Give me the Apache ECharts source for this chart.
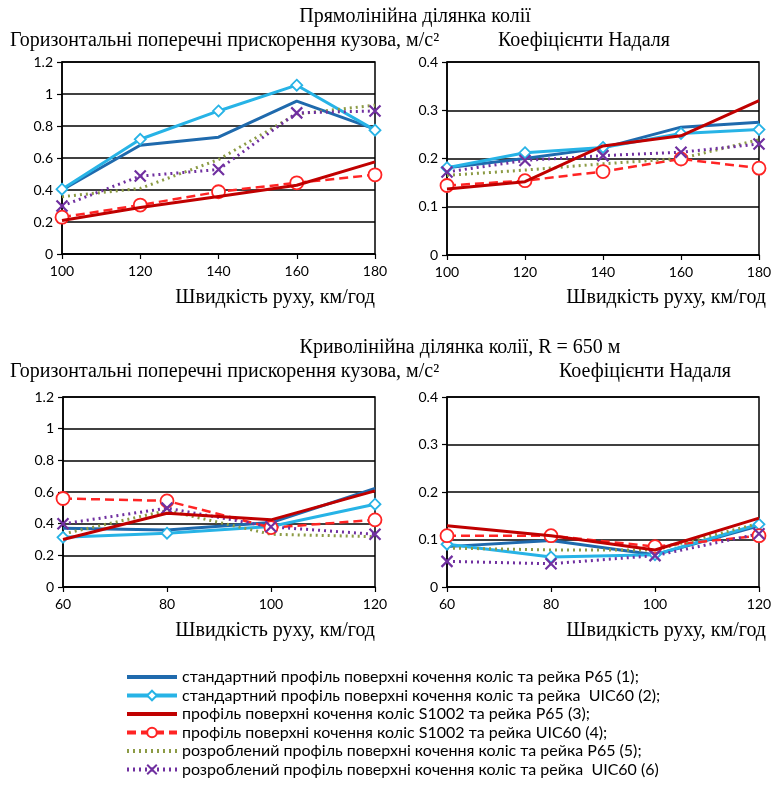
<!DOCTYPE html>
<html>
<head>
<meta charset="utf-8">
<script src="https://cdn.jsdelivr.net/npm/echarts@6/dist/echarts.min.js"></script>
<style>
  html, body { margin: 0; padding: 0; background: #fff; }
  #chart { width: 777px; height: 785px; }
</style>
</head>
<body>
<div id="chart"></div>
<script>
// Speeds, km/h
const speedStraight = [100, 120, 140, 160, 180];
const speedCurve = [60, 80, 100, 120];

// Series names (wheel profile / rail combinations)
const seriesNames = [
  'стандартний профіль поверхні кочення коліс та рейка Р65 (1);',
  'стандартний профіль поверхні кочення коліс та рейка  UIC60 (2);',
  'профіль поверхні кочення коліс S1002 та рейка Р65 (3);',
  'профіль поверхні кочення коліс S1002 та рейка UIC60 (4);',
  'розроблений профіль поверхні кочення коліс та рейка Р65 (5);',
  'розроблений профіль поверхні кочення коліс та рейка  UIC60 (6)'
];

// Straight track: horizontal lateral body accelerations, m/s^2
const accStraight = [
  [0.40, 0.68, 0.73, 0.955, 0.78],
  [0.405, 0.717, 0.894, 1.055, 0.774],
  [0.21, 0.29, 0.36, 0.43, 0.576],
  [0.23, 0.306, 0.389, 0.445, 0.495],
  [0.358, 0.41, 0.59, 0.875, 0.93],
  [0.30, 0.487, 0.528, 0.882, 0.894]
];

// Straight track: Nadal coefficients
const nadalStraight = [
  [0.181, 0.20, 0.222, 0.265, 0.275],
  [0.181, 0.212, 0.223, 0.252, 0.26],
  [0.137, 0.152, 0.226, 0.247, 0.32],
  [0.144, 0.154, 0.173, 0.199, 0.18],
  [0.165, 0.176, 0.189, 0.20, 0.239],
  [0.172, 0.196, 0.206, 0.213, 0.23]
];

// Curve R = 650 m: horizontal lateral body accelerations, m/s^2
const accCurve = [
  [0.371, 0.36, 0.407, 0.622],
  [0.314, 0.34, 0.382, 0.523],
  [0.30, 0.466, 0.424, 0.607],
  [0.559, 0.544, 0.375, 0.424],
  [0.335, 0.483, 0.333, 0.318],
  [0.399, 0.498, 0.38, 0.333]
];

// Curve R = 650 m: Nadal coefficients
const nadalCurve = [
  [0.085, 0.098, 0.068, 0.129],
  [0.09, 0.063, 0.068, 0.132],
  [0.129, 0.108, 0.078, 0.145],
  [0.108, 0.108, 0.085, 0.108],
  [0.082, 0.078, 0.078, 0.134],
  [0.054, 0.049, 0.066, 0.112]
];

const serifFont = '"Liberation Serif", "DejaVu Serif", serif';
const sansFont = 'Lato, "Open Sans", sans-serif';

const crossPath = 'path://M0,0L10,10M10,0L0,10';

// Visual style for each of the six series
const styles = [
  { color: '#1f6aad', type: 'solid', width: 3, symbol: 'none' },
  { color: '#27b3e6', type: 'solid', width: 3, symbol: 'diamond', size: 11 },
  { color: '#c00000', type: 'solid', width: 3, symbol: 'none' },
  { color: '#ff2424', type: [9, 5], width: 2.5, symbol: 'circle', size: 13 },
  { color: '#8c9b45', type: [2, 4], width: 3, symbol: 'none' },
  { color: '#7030a0', type: [2, 4], width: 3, symbol: crossPath, size: 11 }
];

const grids = [
  { left: 62, top: 62, width: 313, height: 192 },
  { left: 447, top: 62, width: 312, height: 193 },
  { left: 63, top: 397, width: 312, height: 190 },
  { left: 447, top: 397, width: 312, height: 190 }
];
grids.forEach(g => { g.show = true; g.borderColor = '#000'; g.borderWidth = 1.5; g.containLabel = false; });

function xAxisFor(idx, speeds) {
  return {
    type: 'value', gridIndex: idx,
    min: speeds[0], max: speeds[speeds.length - 1], interval: speeds[1] - speeds[0],
    axisLine: { show: true, lineStyle: { color: '#000', width: 1.5 } },
    axisTick: { show: true, length: 5, inside: false, lineStyle: { color: '#000', width: 1.2 } },
    axisLabel: { color: '#000', fontFamily: sansFont, fontSize: 14, margin: 10 },
    splitLine: { show: false }
  };
}

function yAxisFor(idx, max, interval) {
  return {
    type: 'value', gridIndex: idx, min: 0, max: max, interval: interval,
    axisLine: { show: true, lineStyle: { color: '#000', width: 1.5 } },
    axisTick: { show: true, length: 5, lineStyle: { color: '#000', width: 1.2 } },
    axisLabel: { color: '#000', fontFamily: sansFont, fontSize: 14, margin: 9 },
    splitLine: { show: true, lineStyle: { color: '#000', width: 1.5 } }
  };
}

const panels = [
  { speeds: speedStraight, data: accStraight },
  { speeds: speedStraight, data: nadalStraight },
  { speeds: speedCurve, data: accCurve },
  { speeds: speedCurve, data: nadalCurve }
];

const series = [];
panels.forEach((p, gi) => {
  p.data.forEach((vals, si) => {
    const st = styles[si];
    const noMarker = st.symbol === 'none';
    series.push({
      name: seriesNames[si],
      type: 'line',
      xAxisIndex: gi, yAxisIndex: gi,
      data: vals.map((v, i) => [p.speeds[i], v]),
      showSymbol: !noMarker,
      symbol: st.symbol,
      symbolSize: st.size || 0,
      lineStyle: { color: st.color, width: st.width, type: st.type },
      itemStyle: noMarker
        ? { color: 'rgba(0,0,0,0)', borderColor: 'rgba(0,0,0,0)', borderWidth: 0 }
        : {
            color: st.symbol === crossPath ? st.color : '#fff',
            borderColor: st.color,
            borderWidth: st.symbol === crossPath ? 2.2 : 1.8
          },
      z: si === 2 ? 3 : 2,
      animation: false
    });
  });
});

function text(x, y, str, align, font) {
  return {
    type: 'text', x: x, y: y,
    style: {
      text: str, fill: '#000', font: font,
      textAlign: align, textVerticalAlign: 'middle'
    }
  };
}
const titleFont = '20px ' + serifFont;
const graphics = [
  text(415, 17, 'Прямолінійна ділянка колії', 'center', titleFont),
  text(10, 41, 'Горизонтальні поперечні прискорення кузова, м/с²', 'left', titleFont),
  text(584, 41, 'Коефіцієнти Надаля', 'center', titleFont),
  text(375, 298, 'Швидкість руху, км/год', 'right', titleFont),
  text(766, 298, 'Швидкість руху, км/год', 'right', titleFont),
  text(460, 348, 'Криволінійна ділянка колії, R = 650 м', 'center', titleFont),
  text(10, 372, 'Горизонтальні поперечні прискорення кузова, м/с²', 'left', titleFont),
  text(645, 372, 'Коефіцієнти Надаля', 'center', titleFont),
  text(375, 631, 'Швидкість руху, км/год', 'right', titleFont),
  text(766, 631, 'Швидкість руху, км/год', 'right', titleFont)
];

const chart = echarts.init(document.getElementById('chart'), null, { renderer: 'canvas' });
chart.setOption({
  backgroundColor: '#fff',
  animation: false,
  grid: grids,
  xAxis: panels.map((p, i) => xAxisFor(i, p.speeds)),
  yAxis: [yAxisFor(0, 1.2, 0.2), yAxisFor(1, 0.4, 0.1), yAxisFor(2, 1.2, 0.2), yAxisFor(3, 0.4, 0.1)],
  legend: {
    data: seriesNames,
    orient: 'vertical',
    left: 125, top: 668, height: 160, width: 620,
    padding: 0,
    itemWidth: 50, itemHeight: 12, itemGap: 0.5,
    lineStyle: { width: 4 },
    textStyle: { color: '#000', fontFamily: sansFont, fontSize: 16, lineHeight: 18 },
    selectedMode: false
  },
  graphic: graphics,
  series: series
});
</script>
</body>
</html>
